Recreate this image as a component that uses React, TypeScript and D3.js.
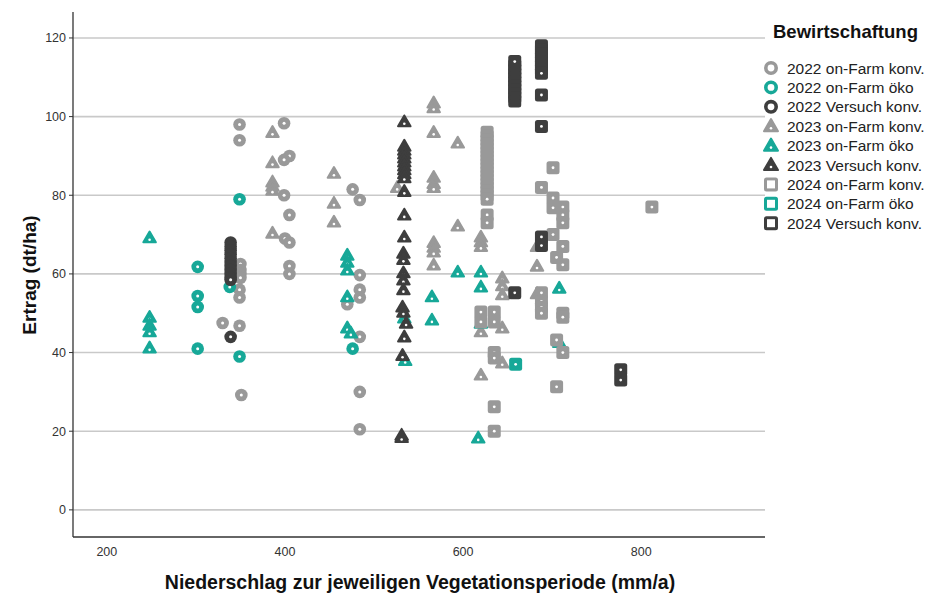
import React from 'react';
import * as d3 from 'd3';

// [Niederschlag mm/a, Ertrag dt/ha]
const farmKonv2022: [number, number][] = [
  [330, 47.5], [349, 98], [349, 94], [350, 62.5], [350, 61], [350, 60], [350, 59], [349, 56], [349, 54],
  [349, 46.8], [351, 29.2], [399, 98.3], [405, 90], [399, 89], [399, 80], [405, 75], [400, 69], [405, 68],
  [405, 62], [405, 60], [476, 81.5], [484, 78.8], [484, 59.7], [484, 56], [484, 54], [470, 52.3], [484, 44],
  [484, 30], [484, 20.5],
];
const farmOeko2022: [number, number][] = [
  [302, 61.8], [302, 54.4], [302, 51.6], [302, 41], [338, 56.7], [349, 79], [349, 39], [476, 41],
];
const versuch2022: [number, number][] = [
  [339, 68], [339, 67], [339, 66], [339, 65], [339, 64], [339, 63], [339, 62], [339, 61], [339, 60],
  [339, 59], [339, 58.5], [339, 44],
];
const farmKonv2023: [number, number][] = [
  [386, 96], [386, 88.3], [386, 83.4], [386, 82.3], [386, 81.3], [386, 70.4], [455, 85.6], [455, 78],
  [455, 73.2], [526, 82], [567, 103.5], [567, 102.3], [567, 96], [567, 84.6], [567, 83], [567, 82],
  [567, 68], [567, 66.8], [567, 65.6], [567, 62.3], [594, 93.3], [594, 72.2], [620, 69.4], [620, 68.2],
  [620, 67], [620, 45.3], [620, 34.3], [644, 59], [644, 57], [644, 54.7], [644, 46.3], [644, 37.4],
  [683, 67], [683, 62], [683, 55],
];
const farmOeko2023: [number, number][] = [
  [248, 69.2], [248, 49], [248, 47], [248, 45.3], [248, 41.2], [470, 64.8], [470, 63], [470, 61],
  [470, 54.2], [470, 46.3], [474, 45], [534, 48.8], [535, 38], [565, 54.2], [565, 48.3], [594, 60.5],
  [620, 60.5], [620, 56.7], [620, 47.5], [617, 18.3], [708, 56.4], [708, 42.6],
];
const versuch2023: [number, number][] = [
  [534, 98.7], [534, 92.5], [534, 91.5], [534, 90.5], [534, 89.5], [534, 88.5], [534, 87.5], [534, 86.5],
  [534, 85.5], [534, 84.5], [534, 81], [534, 75], [534, 69.4], [533, 65.3], [533, 63.7], [533, 60.3],
  [533, 58.5], [533, 56], [532, 51.6], [533, 50.3], [536, 47.5], [534, 44], [532, 39.3], [531, 19],
  [531, 18.4],
];
const farmKonv2024: [number, number][] = [
  [627, 96], [627, 95], [627, 94], [627, 93], [627, 92], [627, 91], [627, 90], [627, 89], [627, 88],
  [627, 87], [627, 86], [627, 85], [627, 84], [627, 83], [627, 82], [627, 81], [627, 80], [627, 79],
  [627, 75], [627, 73], [620, 50.3], [620, 47.8], [635, 50.3], [635, 47.8], [635, 40], [635, 38.6],
  [635, 26.2], [635, 20], [688, 82], [688, 55.2], [688, 53], [688, 51.5], [688, 50], [701, 87],
  [701, 79.3], [701, 76.8], [701, 70], [705, 64.2], [705, 43.2], [705, 31.3], [712, 77], [712, 75],
  [712, 73], [712, 67], [712, 62.3], [712, 50], [712, 49], [712, 40], [812, 77],
];
const farmOeko2024: [number, number][] = [[659, 37]];
const versuch2024: [number, number][] = [
  [658, 104], [658, 105], [658, 106], [658, 107], [658, 108], [658, 109], [658, 110], [658, 111],
  [658, 112], [658, 113], [658, 114], [658, 55.2], [688, 118], [688, 117], [688, 116], [688, 115],
  [688, 114], [688, 113], [688, 112], [688, 111], [688, 105.5], [688, 97.5], [688, 69.4], [688, 67.2],
  [777, 35.6], [777, 33],
];

const xTicks = [200, 400, 600, 800];
const yTicks = [0, 20, 40, 60, 80, 100, 120];

const GRAY = '#999999';
const TEAL = '#17a898';
const DARK = '#3e3e3e';

type Shape = 'circle' | 'triangle' | 'square';
const series: { label: string; shape: Shape; color: string; data: [number, number][] }[] = [
  { label: '2022 on-Farm konv.', shape: 'circle', color: GRAY, data: farmKonv2022 },
  { label: '2022 on-Farm öko', shape: 'circle', color: TEAL, data: farmOeko2022 },
  { label: '2022 Versuch konv.', shape: 'circle', color: DARK, data: versuch2022 },
  { label: '2023 on-Farm konv.', shape: 'triangle', color: GRAY, data: farmKonv2023 },
  { label: '2023 on-Farm öko', shape: 'triangle', color: TEAL, data: farmOeko2023 },
  { label: '2023 Versuch konv.', shape: 'triangle', color: DARK, data: versuch2023 },
  { label: '2024 on-Farm konv.', shape: 'square', color: GRAY, data: farmKonv2024 },
  { label: '2024 on-Farm öko', shape: 'square', color: TEAL, data: farmOeko2024 },
  { label: '2024 Versuch konv.', shape: 'square', color: DARK, data: versuch2024 },
];

const font = '"Liberation Sans", Arial, sans-serif';

const triPath = d3.symbol(d3.symbolTriangle, 68)();
const triLegend = d3.symbol(d3.symbolTriangle, 85)();

function Marker({ shape, color, x, y, legend }: { shape: Shape; color: string; x: number; y: number; legend?: boolean }) {
  if (shape === 'circle') {
    return (
      <g transform={`translate(${x},${y})`}>
        {legend ? (
          <circle r={5.2} fill="white" stroke={color} strokeWidth={3.6} />
        ) : (
          <>
            <circle r={6.3} fill={color} />
            <circle r={1.5} fill="white" />
          </>
        )}
      </g>
    );
  }
  if (shape === 'triangle') {
    return (
      <g transform={`translate(${x},${y + 1})`}>
        <path d={(legend ? triLegend : triPath)!} fill={color} stroke={color} strokeWidth={2} strokeLinejoin="round" />
        <circle r={1.3} cy={1} fill="white" />
      </g>
    );
  }
  const s = legend ? 14 : 13;
  return (
    <g transform={`translate(${x},${y})`}>
      <rect x={-s / 2} y={-s / 2} width={s} height={s} rx={2.5} fill={color} />
      {legend ? <rect x={-4} y={-4} width={8} height={8} fill="white" /> : <circle r={1.4} fill="white" />}
    </g>
  );
}

export default function App() {
  const width = 926;
  const height = 598;
  const left = 73, right = 765, top = 12, bottom = 537;

  const x = d3.scaleLinear().domain([162, 939]).range([left, right]);
  const y = d3.scaleLinear().domain([-6.9, 126.6]).range([bottom, top]);

  return (
    <svg width={width} height={height} style={{ position: 'absolute', left: 0, top: 0, background: 'white' }} fontFamily={font}>
      {/* grid */}
      {yTicks.map(t => (
        <line key={t} x1={left} x2={right} y1={y(t)} y2={y(t)} stroke="#c9c9c9" strokeWidth={1.6} />
      ))}
      {/* axes */}
      <line x1={left} x2={left} y1={top} y2={bottom} stroke="#333" strokeWidth={1.3} />
      <line x1={left} x2={right} y1={bottom} y2={bottom} stroke="#333" strokeWidth={1.3} />
      {yTicks.map(t => (
        <g key={t}>
          <line x1={left - 4} x2={left} y1={y(t)} y2={y(t)} stroke="#333" strokeWidth={1} />
          <text x={left - 7} y={y(t)} dy="0.35em" textAnchor="end" fontSize={12.5} fill="#333">{t}</text>
        </g>
      ))}
      {xTicks.map(t => (
        <text key={t} x={x(t)} y={556} textAnchor="middle" fontSize={12.5} fill="#333">{t}</text>
      ))}
      <text x={420} y={589} textAnchor="middle" fontSize={19.5} fontWeight="bold" fill="#111">
        Niederschlag zur jeweiligen Vegetationsperiode (mm/a)
      </text>
      <text transform="translate(36,275) rotate(-90)" textAnchor="middle" fontSize={19} fontWeight="bold" fill="#111">
        Ertrag (dt/ha)
      </text>

      {/* points */}
      {series.map(s => (
        <g key={s.label}>
          {s.data.map((d, i) => (
            <Marker key={i} shape={s.shape} color={s.color} x={x(d[0])} y={y(d[1])} />
          ))}
        </g>
      ))}

      {/* legend */}
      <text x={773} y={38} fontSize={18.5} fontWeight="bold" fill="#111">Bewirtschaftung</text>
      {series.map((s, i) => {
        const cy = 68 + i * 19.4;
        return (
          <g key={s.label}>
            <Marker shape={s.shape} color={s.color} x={771} y={cy} legend />
            <text x={787} y={cy} dy="0.36em" fontSize={15.5} fill="#222">{s.label}</text>
          </g>
        );
      })}
    </svg>
  );
}
